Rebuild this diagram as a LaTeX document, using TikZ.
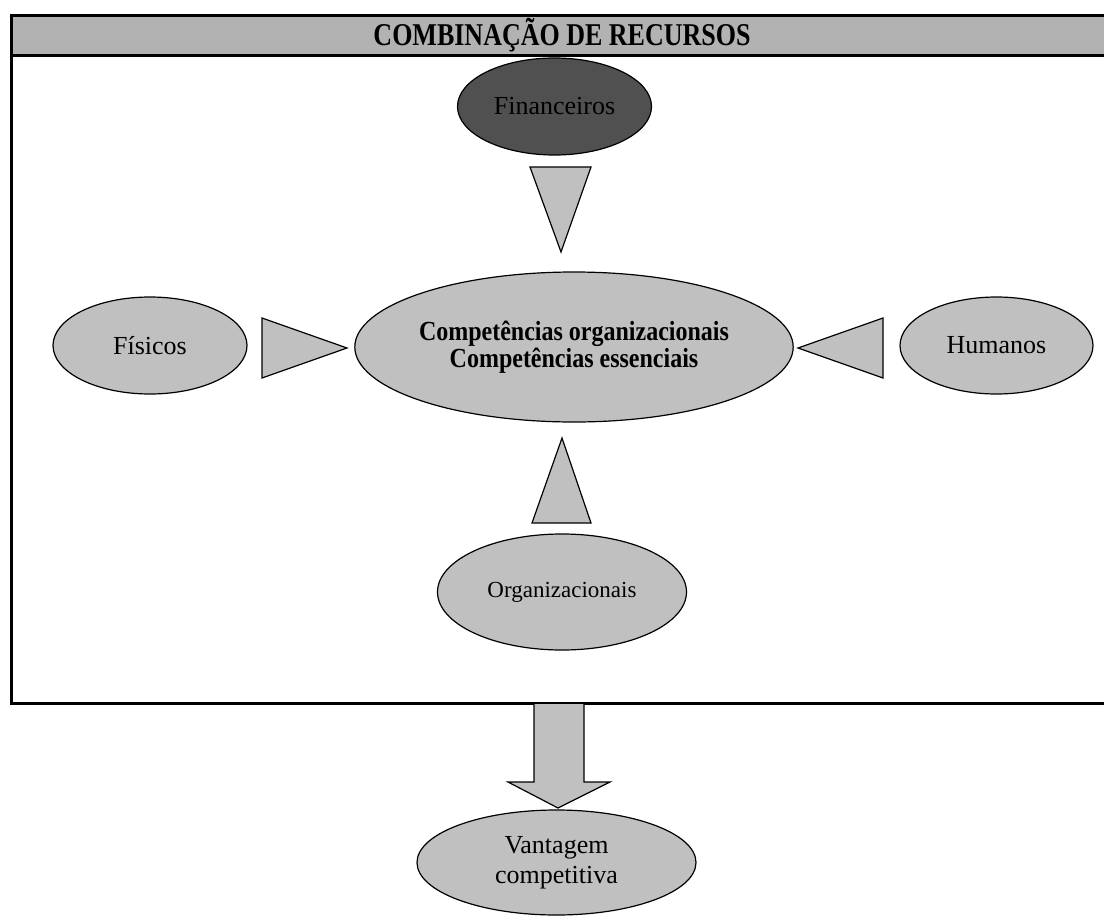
\documentclass[tikz,border=0pt]{standalone}
\usepackage{fontspec}
\setmainfont{Liberation Serif}
\usetikzlibrary{shapes.geometric}
\definecolor{resgray}{HTML}{C0C0C0}
\definecolor{headgray}{HTML}{B2B2B2}
\definecolor{darkres}{HTML}{505050}
\begin{document}
\begin{tikzpicture}[x=1pt,y=-1pt,
  res/.style={ellipse, draw, line width=1.2pt, fill=resgray, inner sep=0pt,
              align=center, font=\fontsize{26}{30}\selectfont},
  wedge/.style={draw, line width=1.2pt, fill=resgray, line join=miter},
  frameline/.style={line width=3pt}]
\useasboundingbox (0,0) rectangle (1104,916);

% header band and outer frame
\fill[headgray] (11.5,15.5) rectangle (1112,55.5);
\draw[frameline] (1112,15.5) -- (11.5,15.5) -- (11.5,703.5) -- (1112,703.5);
\draw[frameline] (11.5,55.5) -- (1112,55.5);
\node[font=\bfseries\fontsize{26}{28}\selectfont] (title) at (562,35)
  {\scalebox{1}[1.22]{COMBINAÇÃO DE RECURSOS}};

% resources
\node[res, fill=darkres, minimum width=194pt, minimum height=97pt] (fin) at (554.5,106.5) {Financeiros};
\node[res, minimum width=424pt, minimum height=150pt,
      font=\bfseries\fontsize{24}{22}\selectfont] (core) at (574,347)
  {\scalebox{1}[1.15]{Competências organizacionais}\\\scalebox{1}[1.15]{Competências essenciais}};
\node[res, minimum width=194pt, minimum height=97pt] (fis) at (150,345.5) {Físicos};
\node[res, minimum width=193pt, minimum height=97pt] (hum) at (996.5,345.5) {Humanos};
\node[res, minimum width=249pt, minimum height=116pt,
      font=\fontsize{23}{28}\selectfont] (org) at (562,592) {Organizacionais};
\node[res, minimum width=279pt, minimum height=105pt] (vant) at (556.5,862.5) {Vantagem\\competitiva};

% wedges pointing at the core competences
\draw[wedge] (530,167) -- (591,167) -- (561,252) -- cycle;
\draw[wedge] (262,318) -- (262,378) -- (347,348) -- cycle;
\draw[wedge] (883,318) -- (883,378) -- (798,348) -- cycle;
\draw[wedge] (532,523) -- (591,523) -- (562,438) -- cycle;

% block arrow to competitive advantage
\coordinate (tip) at (558,808);
\draw[wedge] (534,704) -- (534,782) -- (508,782) -- (tip) -- (610,782) -- (584,782) -- (584,704);
\end{tikzpicture}
\end{document}
